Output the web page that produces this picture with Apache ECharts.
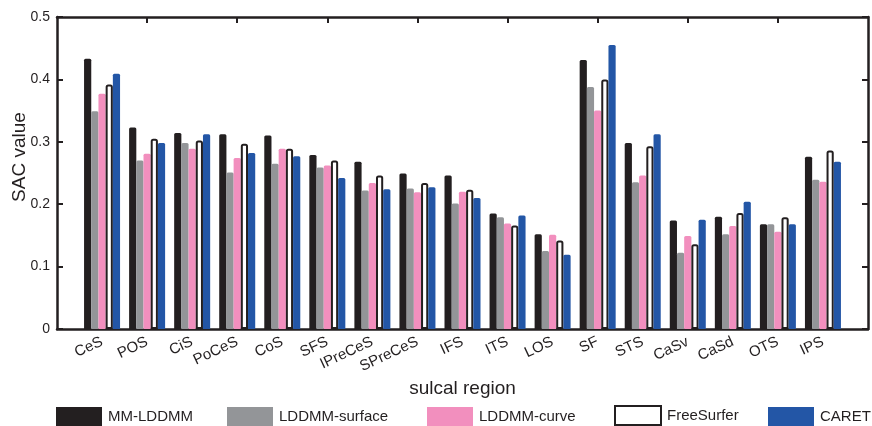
<!DOCTYPE html>
<html>
<head>
<meta charset="utf-8">
<script src="https://cdn.jsdelivr.net/npm/echarts@6/dist/echarts.min.js"></script>
<style>html,body{margin:0;padding:0;background:#fff;}#c{width:872px;height:426px;}</style>
</head>
<body>
<div id="c"></div>
<script>
const categories = ['CeS','POS','CiS','PoCeS','CoS','SFS','IPreCeS','SPreCeS','IFS','ITS','LOS','SF','STS','CaSv','CaSd','OTS','IPS'];
const seriesNames = ['MM-LDDMM','LDDMM-surface','LDDMM-curve','FreeSurfer','CARET'];
const mmLddmm      = [0.433,0.323,0.314,0.312,0.310,0.279,0.268,0.249,0.246,0.185,0.152,0.431,0.298,0.174,0.180,0.168,0.276];
const lddmmSurface = [0.349,0.270,0.298,0.251,0.265,0.259,0.222,0.225,0.201,0.179,0.125,0.388,0.235,0.122,0.152,0.168,0.239];
const lddmmCurve   = [0.377,0.281,0.289,0.274,0.289,0.262,0.234,0.219,0.220,0.169,0.151,0.350,0.246,0.149,0.165,0.156,0.236];
const freeSurfer   = [0.392,0.305,0.302,0.297,0.289,0.270,0.246,0.234,0.223,0.166,0.142,0.400,0.293,0.136,0.186,0.179,0.286];
const caret        = [0.409,0.298,0.312,0.282,0.277,0.242,0.224,0.227,0.210,0.182,0.119,0.455,0.312,0.175,0.204,0.168,0.268];
const yTicks = [0, 0.1, 0.2, 0.3, 0.4, 0.5];

const pad = arr => ['-'].concat(arr, ['-']);
const axisCats = [''].concat(categories, ['']);
const FONT = 'Liberation Sans, Arial, sans-serif';
const ink = '#231f20';
const legendLefts = [56, 227, 427, 614, 768];

function bar(name, data, color, extra) {
  return Object.assign({
    name: name, type: 'bar', data: pad(data),
    barWidth: 7.2, barGap: '0%',
    itemStyle: { color: color, borderRadius: [1.5,1.5,0,0] },
    emphasis: { disabled: true }
  }, extra || {});
}

const chart = echarts.init(document.getElementById('c'), null, { renderer: 'canvas' });
chart.setOption({
  animation: false,
  textStyle: { fontFamily: FONT },
  grid: { left: 57, right: 4, top: 17, bottom: 97, containLabel: false, outerBoundsMode: 'none' },
  legend: seriesNames.map((n, i) => ({
    bottom: 0, left: legendLefts[i], padding: 0,
    icon: 'rect', itemWidth: 46, itemHeight: 19,
    textStyle: { fontSize: 15, color: ink, fontFamily: FONT, padding: [0, 0, 0, 1] },
    data: [n]
  })),
  xAxis: [
    {
      type: 'category', position: 'bottom', data: axisCats, boundaryGap: false,
      axisLine: { onZero: false, lineStyle: { color: ink, width: 2.5 } },
      axisTick: { show: false },
      axisLabel: { interval: 0, rotate: 25, fontSize: 15, color: ink, margin: 12, fontFamily: FONT },
      name: 'sulcal region', nameLocation: 'middle', nameGap: 50, nameMoveOverlap: false,
      nameTextStyle: { fontSize: 19, color: ink, fontFamily: FONT }
    },
    {
      type: 'category', position: 'top', data: axisCats, boundaryGap: false,
      axisLine: { onZero: false, lineStyle: { color: ink, width: 2.5 } },
      axisTick: { show: true, inside: true, length: 6, lineStyle: { width: 2, color: ink },
        interval: function (i) { return i > 0 && i < 18 && i % 2 === 0; } },
      axisLabel: { show: false }
    }
  ],
  yAxis: [
    {
      type: 'value', position: 'left', min: 0, max: 0.5, interval: 0.1,
      axisLine: { show: true, onZero: false, lineStyle: { color: ink, width: 2.5 } },
      axisTick: { show: true, inside: true, length: 6, lineStyle: { width: 2, color: ink } },
      splitLine: { show: false },
      axisLabel: { fontSize: 14, color: ink, margin: 7, fontFamily: FONT,
        formatter: function (v) { const t = yTicks.find(x => Math.abs(x - v) < 1e-9); return t === undefined ? '' : String(t); } },
      name: 'SAC value', nameLocation: 'middle', nameGap: 28, nameRotate: 90, nameMoveOverlap: false,
      nameTextStyle: { fontSize: 19, color: ink, fontFamily: FONT, padding: [0, 0, 0, 32] }
    },
    {
      type: 'value', position: 'right', min: 0, max: 0.5, interval: 0.1,
      axisLine: { show: true, onZero: false, lineStyle: { color: ink, width: 2.5 } },
      axisTick: { show: true, inside: true, length: 6, lineStyle: { width: 2, color: ink } },
      splitLine: { show: false },
      axisLabel: { show: false }
    }
  ],
  series: [
    bar(seriesNames[0], mmLddmm, '#231f20'),
    bar(seriesNames[1], lddmmSurface, '#939598'),
    bar(seriesNames[2], lddmmCurve, '#f28fbe'),
    bar(seriesNames[3], freeSurfer, '#ffffff', { itemStyle: { color: '#ffffff', borderColor: '#231f20', borderWidth: 2, borderRadius: [1.5,1.5,0,0] } }),
    bar(seriesNames[4], caret, '#2356a6')
  ]
});
</script>
</body>
</html>
